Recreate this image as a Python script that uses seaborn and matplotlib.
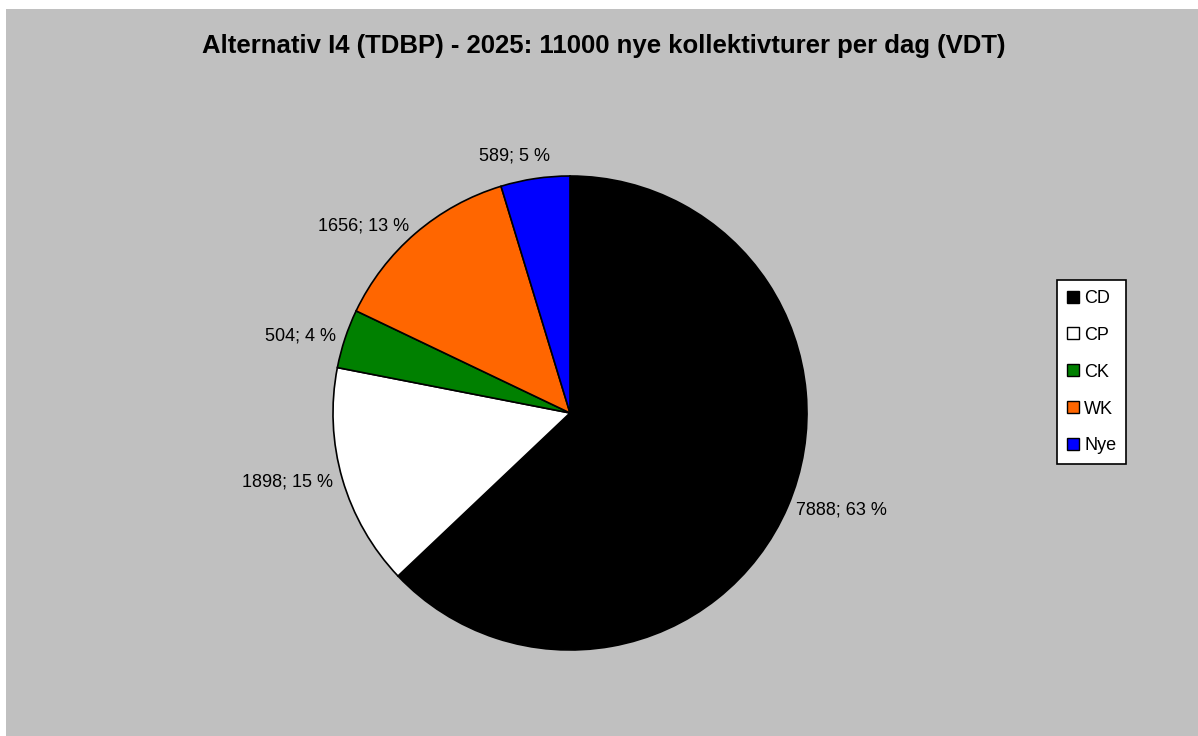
import matplotlib.pyplot as plt
from matplotlib.lines import Line2D
from matplotlib.patches import Rectangle
import numpy as np
import seaborn as sns

categories = ['CD', 'CP', 'CK', 'WK', 'Nye']
values = [7888, 1898, 504, 1656, 589]
percent_labels = ['63 %', '15 %', '4 %', '13 %', '5 %']
colors = ['#000000', '#FFFFFF', '#008000', '#FF6600', '#0000FF']
title = 'Alternativ I4 (TDBP) - 2025: 11000 nye kollektivturer per dag (VDT)'

sns.set_theme(style='white')
plt.rcParams['font.family'] = ['Liberation Sans', 'DejaVu Sans']

W, H = 1198, 736
fig = plt.figure(figsize=(W / 100, H / 100), dpi=100, facecolor='white')
# grey chart area, small white strip on top and left
fig.patches.append(Rectangle((6 / W, 0), 1 - 6 / W, 1 - 9 / H, transform=fig.transFigure,
                             facecolor='#C0C0C0', edgecolor='none', zorder=-1))

cx, cy, r = 570, 413, 237
ax = fig.add_axes([(cx - r) / W, (H - cy - r) / H, 2 * r / W, 2 * r / H])
ax.set_facecolor('none')

wedges, _ = ax.pie(values, colors=colors, startangle=90, counterclock=False,
                   wedgeprops=dict(edgecolor='black', linewidth=1.2))
ax.set_xlim(-1, 1)
ax.set_ylim(-1, 1)
ax.set_aspect('equal')
ax.axis('off')

for w, v, p in zip(wedges, values, percent_labels):
    ang = np.deg2rad((w.theta1 + w.theta2) / 2)
    x, y = np.cos(ang), np.sin(ang)
    if abs(x) < 0.3:
        # label above the slice
        ax.text(1.06 * x - 0.08, 1.06 * y, f'{v}; {p}', ha='center', va='bottom',
                fontsize=13, color='black')
    else:
        ha = 'left' if x > 0 else 'right'
        ax.text(1.04 * x, 1.04 * y, f'{v}; {p}', ha=ha, va='center', fontsize=13, color='black')

fig.text(604 / W, 1 - 46 / H, title, ha='center', va='center', fontsize=18.5,
         fontweight='bold', color='black')

handles = [Line2D([], [], marker='s', linestyle='none', markersize=9, markerfacecolor=c,
                  markeredgecolor='black', markeredgewidth=1) for c in colors]
leg = fig.legend(handles, categories, loc='upper left', bbox_to_anchor=(1057 / W, 1 - 280 / H),
                 fontsize=13, labelcolor='black', frameon=True, fancybox=False, framealpha=1,
                 edgecolor='black', handlelength=0.7, handletextpad=0.25, labelspacing=1.1,
                 borderpad=0.55, borderaxespad=0)
leg.get_frame().set_linewidth(1.2)
leg.get_frame().set_facecolor('white')

fig.savefig('out.png', dpi=100, facecolor=fig.get_facecolor())
